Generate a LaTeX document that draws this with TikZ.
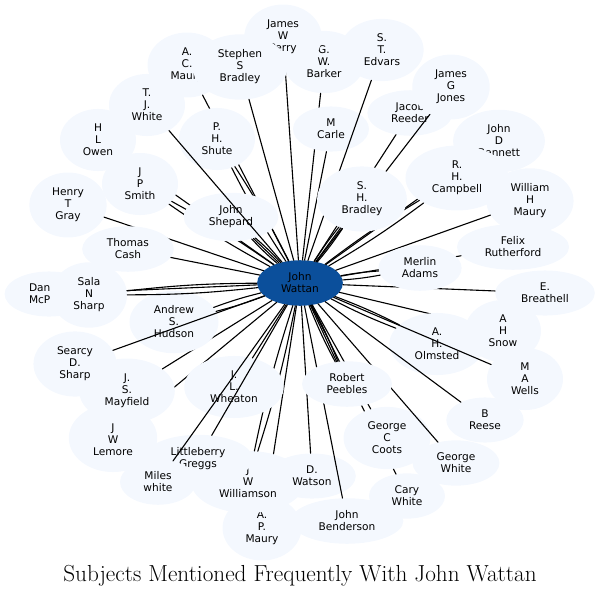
\documentclass[tikz,border=0pt]{standalone}
\usepackage{fontspec}
\newfontfamily\labelfont{DejaVu Sans}
\usetikzlibrary{shapes.geometric}
\definecolor{nodofill}{HTML}{F4F8FE}
\definecolor{centrofill}{HTML}{0B4F9B}

\begin{document}
\begin{tikzpicture}[x=1pt, y=-1pt]
    % --- CONFIGURAZIONE ---
    \tikzset{
        node_style/.style={ellipse, fill=nodofill, inner xsep=11.4pt, inner ysep=6pt,
            minimum width=76pt, align=center, font=\labelfont\fontsize{10.6}{12}\selectfont},
        center_style/.style={node_style, fill=centrofill},
        edge_style/.style={line width=1.1pt, line cap=round},
        title_style/.style={font=\fontsize{23.2}{26}\selectfont}
    }

    \useasboundingbox (0,0) rectangle (600,598);

    % ===================================================
    % NODO CENTRALE
    % ===================================================
    \node[center_style] (wattan) at (300,283) {John\\Wattan};

    % ===================================================
    % SOGGETTI (ordine di disegno = ordine della lista)
    % nome / x / y / testo / numero di archi
    % ===================================================
    \foreach \nome/\x/\y/\testo/\k in {
        owen/98/140/{H\\L\\Owen}/1,
        acmaury/187/65/{A.\\C.\\Maury}/1,
        barker/324/62/{G.\\W.\\Barker}/1,
        perry/283/37/{James\\W\\Perry}/1,
        carle/331/129/{M\\Carle}/1,
        edvars/382/50/{S.\\T.\\Edvars}/1,
        reeder/410/113/{Jacob\\Reeder}/1,
        jones/451/87/{James\\G\\Jones}/1,
        bennett/499/141/{John\\D\\Bennett}/1,
        campbell/457/178/{R.\\H.\\Campbell}/2,
        shbradley/362/199/{S.\\H.\\Bradley}/3,
        stephen/240/67/{Stephen\\S\\Bradley}/1,
        shute/217/139/{P.\\H.\\Shute}/2,
        smith/140/184/{J\\P\\Smith}/2,
        shepard/231/217/{John\\Shepard}/3,
        tjwhite/147/105/{T.\\J.\\White}/1,
        gray/68/205/{Henry\\T\\Gray}/1,
        cash/128/249/{Thomas\\Cash}/1,
        felix/513/247/{Felix\\Rutherford}/1,
        wmaury/530/201/{William\\H\\Maury}/1,
        breathell/545/293/{E.\\Breathell}/1,
        merlin/420/268/{Merlin\\Adams}/2,
        snow/503/331/{A\\H\\Snow}/1,
        olmsted/437/344/{A.\\H.\\Olmsted}/2,
        wells/525/379/{M\\A\\Wells}/1,
        lemore/113/438/{\mbox{}\\J\\W\\Lemore}/1,
        mayfield/127/391/{J.\\S.\\Mayfield}/1,
        hudson/174/322/{Andrew\\S.\\Hudson}/2,
        searcy/75/364/{Searcy\\D.\\Sharp}/1,
        apmaury/262/528/{A.\\P.\\Maury}/1,
        williamson/248/482/{J\\W\\Williamson}/2,
        wheaton/234/387/{J.\\L.\\Wheaton}/1,
        littleberry/198/459/{Littleberry\\Greggs}/1,
        miles/158/482/{Miles\\white}/1,
        watson/312/476/{D.\\Watson}/1,
        benderson/347/521/{John\\Benderson}/1,
        cary/407/496/{Cary\\White}/1,
        coots/387/438/{George\\C\\Coots}/1,
        reese/485/420/{B\\Reese}/1,
        gwhite/456/463/{George\\White}/1,
        peebles/347/384/{Robert\\Peebles}/3%
    } {
        \node[node_style] (\nome) at (\x,\y) {\testo};
        \ifodd\k
            \draw[edge_style] (wattan) -- (\nome);
        \fi
        \ifnum\k>1
            \draw[edge_style] (wattan) to[bend left=3] (\nome);
            \draw[edge_style] (wattan) to[bend right=3] (\nome);
        \fi
    }

    % Dan McP... (coperto in parte da Sala N Sharp)
    \node[node_style, align=left, text width=40pt] (dan) at (49,294) {Dan\\McP};
    \draw[edge_style] (wattan) -- (dan);
    \node[node_style] (sala) at (89,295) {Sala\\N\\Sharp};
    \draw[edge_style] (wattan) to[bend left=3] (sala);
    \draw[edge_style] (wattan) to[bend right=3] (sala);

    % titolo
    \node[title_style] (titolo) at (300,576) {Subjects Mentioned Frequently With John Wattan};

\end{tikzpicture}
\end{document}
